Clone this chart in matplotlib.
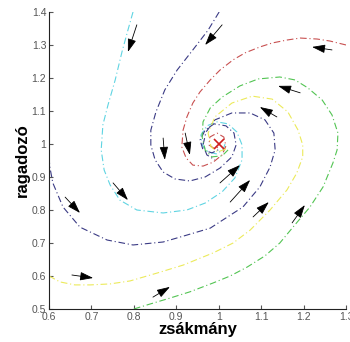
import matplotlib
matplotlib.use("Agg")
import matplotlib.pyplot as plt

# trajectories (zsakmany, ragadozo)
cyan_x = [0.798, 0.786, 0.772, 0.756, 0.739, 0.727, 0.723, 0.730, 0.744, 0.767, 0.807, 0.869,
          0.925, 0.968, 1.008, 1.038, 1.055, 1.055, 1.043, 1.022, 0.996, 0.972, 0.958, 0.961,
          0.975, 0.994, 1.010, 1.015]
cyan_y = [1.400, 1.345, 1.279, 1.194, 1.118, 1.058, 0.982, 0.921, 0.876, 0.830, 0.800, 0.791,
          0.800, 0.821, 0.855, 0.897, 0.952, 0.997, 1.036, 1.061, 1.067, 1.055, 1.027, 0.997,
          0.976, 0.970, 0.982, 1.000]

navy1_x = [1.001, 0.975, 0.939, 0.902, 0.873, 0.852, 0.840, 0.840, 0.850, 0.869, 0.897, 0.932,
           0.968, 1.003, 1.031, 1.041, 1.036, 1.017, 0.989, 0.968, 0.956, 0.963, 0.984, 1.003]
navy1_y = [1.400, 1.345, 1.285, 1.224, 1.164, 1.097, 1.042, 0.997, 0.952, 0.915, 0.894, 0.888,
           0.900, 0.927, 0.961, 0.997, 1.033, 1.055, 1.061, 1.042, 1.012, 0.982, 0.973, 0.985]

navy2_x = [0.600, 0.600, 0.602, 0.609, 0.633, 0.673, 0.737, 0.798, 0.869, 0.925, 0.980, 1.010,
           1.057, 1.097, 1.121, 1.133, 1.130, 1.109, 1.074, 1.031, 0.991, 0.970, 0.963, 0.972,
           0.991]
navy2_y = [1.000, 0.960, 0.930, 0.882, 0.809, 0.748, 0.709, 0.694, 0.703, 0.724, 0.745, 0.770,
           0.809, 0.870, 0.930, 0.982, 1.033, 1.073, 1.094, 1.094, 1.073, 1.036, 0.997, 0.967,
           0.952]

red_x = [1.300, 1.262, 1.232, 1.192, 1.161, 1.126, 1.097, 1.062, 1.034, 1.003, 0.980, 0.956,
         0.939, 0.925, 0.916, 0.913, 0.923, 0.939, 0.963, 0.987, 1.008, 1.017, 1.012, 0.996,
         0.979, 0.977, 0.991, 1.003]
red_y = [1.300, 1.312, 1.318, 1.321, 1.315, 1.306, 1.294, 1.276, 1.255, 1.224, 1.194, 1.158,
         1.124, 1.082, 1.042, 0.991, 0.958, 0.936, 0.933, 0.945, 0.967, 0.994, 1.021, 1.033,
         1.021, 0.997, 0.985, 0.994]

green_x = [0.800, 0.838, 0.885, 0.932, 0.987, 1.027, 1.067, 1.109, 1.144, 1.175, 1.215, 1.246,
           1.269, 1.279, 1.281, 1.267, 1.244, 1.210, 1.180, 1.144, 1.093, 1.050, 1.008, 0.980,
           0.963, 0.961, 0.968, 0.984, 1.008, 1.022]
green_y = [0.500, 0.515, 0.533, 0.552, 0.579, 0.600, 0.627, 0.661, 0.700, 0.748, 0.809, 0.870,
           0.942, 0.982, 1.033, 1.088, 1.133, 1.170, 1.194, 1.203, 1.197, 1.176, 1.142, 1.109,
           1.067, 1.021, 0.982, 0.961, 0.964, 0.982]

yellow_x = [0.600, 0.626, 0.661, 0.697, 0.744, 0.791, 0.855, 0.916, 0.987, 1.034, 1.074, 1.121,
            1.161, 1.184, 1.198, 1.198, 1.187, 1.163, 1.126, 1.079, 1.031, 0.991, 0.975, 0.982,
            0.998, 1.017]
yellow_y = [0.600, 0.582, 0.573, 0.573, 0.576, 0.585, 0.609, 0.633, 0.670, 0.700, 0.739, 0.800,
            0.861, 0.912, 0.961, 0.997, 1.042, 1.097, 1.136, 1.145, 1.124, 1.082, 1.033, 0.991,
            0.976, 0.985]

# direction arrows: tail -> head
arrow_x0 = [0.807, 1.008, 1.267, 1.192, 1.137, 0.869, 0.921, 0.638, 0.751, 0.654, 0.845, 1.003, 1.027, 1.081, 1.173]
arrow_y0 = [1.361, 1.361, 1.285, 1.155, 1.082, 1.018, 1.033, 0.839, 0.882, 0.603, 0.536, 0.882, 0.824, 0.779, 0.761]
arrow_x1 = [0.786, 0.968, 1.220, 1.140, 1.097, 0.873, 0.932, 0.673, 0.786, 0.704, 0.885, 1.050, 1.074, 1.118, 1.203]
arrow_y1 = [1.279, 1.300, 1.294, 1.176, 1.112, 0.952, 0.967, 0.791, 0.830, 0.594, 0.567, 0.936, 0.891, 0.824, 0.815]

x_ticks = [0.6, 0.7, 0.8, 0.9, 1.0, 1.1, 1.2, 1.3]
x_labels = ["0.6", "0.7", "0.8", "0.9", "1", "1.1", "1.2", "1.3"]
y_ticks = [0.5, 0.6, 0.7, 0.8, 0.9, 1.0, 1.1, 1.2, 1.3, 1.4]
y_labels = ["0.5", "0.6", "0.7", "0.8", "0.9", "1", "1.1", "1.2", "1.3", "1.4"]

plt.rcParams["font.family"] = ["Liberation Sans", "DejaVu Sans"]

fig = plt.figure(figsize=(3.5, 3.42), dpi=100)
ax = fig.add_axes([0.14, 0.0965, 0.8486, 0.8685])

dashdot = (0, (6, 2.5, 1, 2.5))
curves = [
    (cyan_x, cyan_y, "#5fd4e2"),
    (navy1_x, navy1_y, "#3a3a84"),
    (navy2_x, navy2_y, "#3a3a84"),
    (red_x, red_y, "#c85050"),
    (green_x, green_y, "#52c452"),
    (yellow_x, yellow_y, "#ecea5a"),
]
for xs, ys, col in curves:
    ax.plot(xs, ys, color=col, lw=0.8, linestyle=dashdot)

ax.plot([1.0], [1.0], marker="x", color="#d02020", ms=7, mew=1.2)

for x0, y0, x1, y1 in zip(arrow_x0, arrow_y0, arrow_x1, arrow_y1):
    ax.annotate("", xy=(x1, y1), xytext=(x0, y0),
                arrowprops=dict(arrowstyle="-|>,head_length=0.8,head_width=0.26",
                                color="black", lw=0.6, shrinkA=0, shrinkB=0))

ax.set_xlim(0.6, 1.3)
ax.set_ylim(0.5, 1.4)
ax.set_xticks(x_ticks)
ax.set_xticklabels(x_labels)
ax.set_yticks(y_ticks)
ax.set_yticklabels(y_labels)
ax.tick_params(direction="in", length=3, labelsize=7.5, colors="#555555", pad=2)
ax.spines["left"].set_color("#222222")
ax.spines["bottom"].set_color("#222222")
ax.spines["top"].set_visible(False)
ax.spines["right"].set_visible(False)
ax.set_xlabel("zsákmány", fontsize=12, fontweight="bold", labelpad=0)
ax.set_ylabel("ragadozó", fontsize=12, fontweight="bold", labelpad=1)

fig.savefig("out.png", dpi=100)
